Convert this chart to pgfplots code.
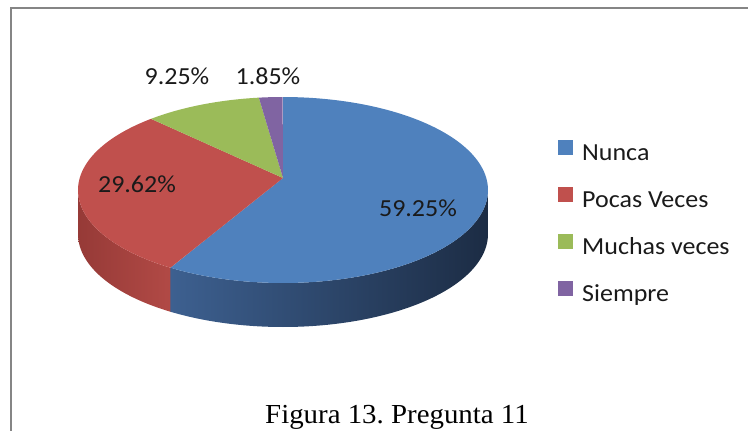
\documentclass[border=0pt]{standalone}
\usepackage{pgfplots}
\pgfplotsset{compat=1.18}
\usepackage{fontspec}
\setmainfont{Carlito}[FakeStretch=1.06]
\newfontfamily\capfont{Liberation Serif}[FakeStretch=1.05]
\definecolor{cNunca}{HTML}{4F81BD}
\definecolor{cPocas}{HTML}{C0504D}
\definecolor{cMuchas}{HTML}{9BBB59}
\definecolor{cSiempre}{HTML}{8064A2}
\definecolor{sideBlueL}{HTML}{3D6090}
\definecolor{sideBlueR}{HTML}{1C2C44}
\definecolor{sideRedL}{HTML}{963A37}
\definecolor{sideRedR}{HTML}{B24A46}
\definecolor{frameGray}{HTML}{858585}
\definecolor{txt}{HTML}{1A1A1A}
% values (percent)
\def\vA{59.25}% Nunca
\def\vB{29.62}% Pocas Veces
\def\vC{9.25}%  Muchas veces
\def\vD{1.85}%  Siempre
% geometry (image pixels)
\def\cx{283}\def\cy{190}\def\ra{205}\def\rb{93}\def\dep{44}
\def\vx{283}\def\vy{178}
\begin{document}
\frenchspacing
\begin{tikzpicture}
\pgfmathsetmacro\sA{90}
\pgfmathsetmacro\eA{90-3.6*\vA}
\pgfmathsetmacro\eB{\eA-3.6*\vB}
\pgfmathsetmacro\eC{\eB-3.6*\vC}
\pgfmathsetmacro\eD{\eC-3.6*\vD}
\pgfmathsetmacro\rS{360+\eA+1}
\pgfmathsetmacro\bS{\eA}
\useasboundingbox (0,0) rectangle (748pt,431pt);
\begin{axis}[at={(0,0)}, anchor=south west, scale only axis,
  width=748pt, height=431pt, xmin=0, xmax=748, ymin=0, ymax=431,
  y dir=reverse, hide axis, clip=false,
  legend image code/.code={\fill[#1, draw=none] (0pt,0pt) rectangle (15pt,15pt);},
  legend style={at={(axis cs:558,140)}, anchor=north west, draw=none, fill=none,
    inner sep=0pt, row sep=21pt, column sep=9pt,
    font=\fontsize{24.5}{27}\selectfont, text=txt,
    nodes={inner sep=0pt, text height=16pt, text depth=6pt}},
  legend cell align=left]
\addlegendimage{fill=cNunca}
\addlegendimage{fill=cPocas}
\addlegendimage{fill=cMuchas}
\addlegendimage{fill=cSiempre}
\legend{Nunca, Pocas Veces, Muchas veces, Siempre}
% frame
\addplot[forget plot, frameGray, line width=2.5pt] coordinates {(11,431) (11,8) (748,8)};
% side walls
\addplot[forget plot, draw=none, left color=sideRedL, right color=sideRedR,
  domain=0:2, samples=201, variable=\t]
  ({\cx+\ra*cos(ifthenelse(\t<=1, 180+\t*(\rS-180), \rS-(\t-1)*(\rS-180)))},
   {\cy-\rb*sin(ifthenelse(\t<=1, 180+\t*(\rS-180), \rS-(\t-1)*(\rS-180)))+ifthenelse(\t>1,\dep,0)}) -- cycle;
\addplot[forget plot, draw=none, left color=sideBlueL, right color=sideBlueR,
  domain=0:2, samples=201, variable=\t]
  ({\cx+\ra*cos(ifthenelse(\t<=1, \bS+\t*(0-\bS), 0-(\t-1)*(0-\bS)))},
   {\cy-\rb*sin(ifthenelse(\t<=1, \bS+\t*(0-\bS), 0-(\t-1)*(0-\bS)))+ifthenelse(\t>1,\dep,0)}) -- cycle;
% top slices
\addplot[forget plot, fill=cNunca, draw=none, domain=\eA:\sA, samples=120]
  ({\cx+\ra*cos(x)},{\cy-\rb*sin(x)}) -- (axis cs:\vx,\vy) -- cycle;
\addplot[forget plot, fill=cPocas, draw=none, domain=\eB:\eA, samples=80]
  ({\cx+\ra*cos(x)},{\cy-\rb*sin(x)}) -- (axis cs:\vx,\vy) -- cycle;
\addplot[forget plot, fill=cMuchas, draw=none, domain=\eC:\eB, samples=40]
  ({\cx+\ra*cos(x)},{\cy-\rb*sin(x)}) -- (axis cs:\vx,\vy) -- cycle;
\addplot[forget plot, fill=cSiempre, draw=none, domain=\eD:\eC, samples=10]
  ({\cx+\ra*cos(x)},{\cy-\rb*sin(x)}) -- (axis cs:\vx,\vy) -- cycle;
% data labels
\begin{scope}[font=\fontsize{24.5}{27}\selectfont, text=txt]
\node at (axis cs:418,208) {59.25\%};
\node at (axis cs:137,184) {29.62\%};
\node at (axis cs:177,76) {9.25\%};
\node at (axis cs:268,76) {1.85\%};
\end{scope}
\node[anchor=base, font=\capfont\fontsize{27.5}{30}\selectfont] at (axis cs:397,423) {Figura 13. Pregunta 11};
\end{axis}
\end{tikzpicture}
\end{document}
